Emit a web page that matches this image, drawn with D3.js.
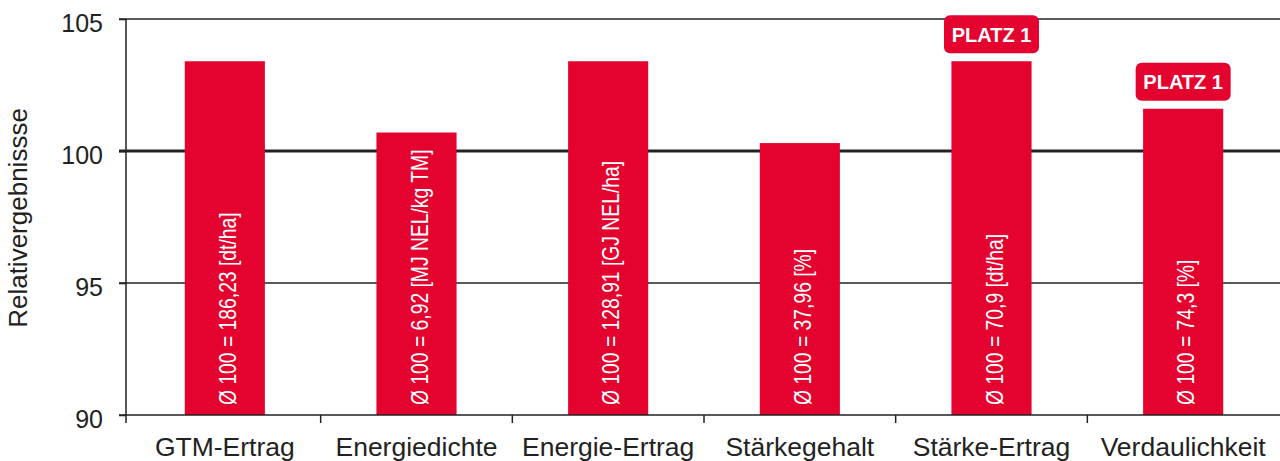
<!DOCTYPE html>
<html>
<head>
<meta charset="utf-8">
<script src="https://cdn.jsdelivr.net/npm/d3@7"></script>
<style>
  html, body { margin: 0; padding: 0; background: #fff; }
  svg { display: block; }
  text { font-family: "Liberation Sans", Arial, sans-serif; }
</style>
</head>
<body>
<svg id="chart" width="1280" height="461"></svg>
<script>
// Relative results per trait (100 = trial mean)
const categories = ["GTM-Ertrag", "Energiedichte", "Energie-Ertrag", "Stärkegehalt", "Stärke-Ertrag", "Verdaulichkeit"];
const values = [103.4, 100.7, 103.4, 100.3, 103.4, 101.6];
const meanValues = ["186,23", "6,92", "128,91", "37,96", "70,9", "74,3"];
const units = ["[dt/ha]", "[MJ NEL/kg TM]", "[GJ NEL/ha]", "[%]", "[dt/ha]", "[%]"];
const ranks = ["", "", "", "", "PLATZ 1", "PLATZ 1"];
const yTicks = [90, 95, 100, 105];
const yTitle = "Relativergebnissse";

const RED = "#e3032e";
const INK = "#222";

const svg = d3.select("#chart");
const plotLeft = 126, plotRight = 1281, plotTop = 19, plotBottom = 415;

const x = d3.scaleBand().domain(categories).range([129, 1279])
  .paddingInner(0.582).paddingOuter(0.291);
const y = d3.scaleLinear().domain([90, 105]).range([plotBottom, plotTop]);

const rows = categories.map((c, i) => ({
  cat: c, value: values[i],
  label: "Ø 100 = " + meanValues[i] + " " + units[i],
  rank: ranks[i]
}));

// horizontal grid lines (100 emphasised)
svg.append("g").selectAll("line")
  .data(yTicks.filter(t => t > 90))
  .join("line")
  .attr("x1", plotLeft - 7).attr("x2", plotRight)
  .attr("y1", d => y(d)).attr("y2", d => y(d))
  .attr("stroke", INK)
  .attr("stroke-width", d => d === 100 ? 3 : 1.5);

// bars
svg.append("g").selectAll("rect")
  .data(rows)
  .join("rect")
  .attr("x", d => x(d.cat))
  .attr("width", x.bandwidth())
  .attr("y", d => y(d.value))
  .attr("height", d => y(90) - y(d.value))
  .attr("fill", RED);

// mean reference labels inside bars
svg.append("g").selectAll("text")
  .data(rows)
  .join("text")
  .attr("transform", d => `translate(${x(d.cat) + x.bandwidth() / 2 + 11},${y(90) - 10}) rotate(-90) scale(0.84,1)`)
  .attr("fill", "#fff")
  .attr("font-size", 23)
  .text(d => d.label);

// rank badges
const badges = svg.append("g").selectAll("g")
  .data(rows.filter(d => d.rank))
  .join("g")
  .attr("transform", d => `translate(${x(d.cat) + x.bandwidth() / 2},${y(d.value) - 8})`);
badges.append("rect")
  .attr("x", -47.5).attr("y", -38)
  .attr("width", 95).attr("height", 38)
  .attr("rx", 6)
  .attr("fill", RED);
badges.append("text")
  .attr("y", -11.5)
  .attr("text-anchor", "middle")
  .attr("fill", "#fff")
  .attr("font-family", "Roboto, 'Liberation Sans', sans-serif")
  .attr("font-weight", 700)
  .attr("font-size", 20)
  .text(d => d.rank);

// y axis
const yAxis = svg.append("g")
  .attr("transform", `translate(${plotLeft},0)`)
  .call(d3.axisLeft(y).tickValues(yTicks).tickSize(7).tickPadding(16).tickFormat(d3.format("d")));
yAxis.select(".domain").remove();
yAxis.selectAll(".tick line").attr("stroke", INK).attr("stroke-width", 1.5);
yAxis.selectAll(".tick text")
  .attr("font-size", 25).attr("fill", INK)
  .attr("font-family", "'Liberation Sans', Arial, sans-serif")
  .attr("dy", "0.5em");
svg.append("line")
  .attr("x1", plotLeft).attr("x2", plotLeft)
  .attr("y1", y(105)).attr("y2", y(90) + 8)
  .attr("stroke", INK).attr("stroke-width", 1.5);

// x axis line and category boundary ticks
svg.append("line")
  .attr("x1", plotLeft - 7).attr("x2", plotRight)
  .attr("y1", y(90)).attr("y2", y(90))
  .attr("stroke", INK).attr("stroke-width", 1.5);
const bounds = categories.map(c => x(c) + x.bandwidth() / 2 - x.step() / 2);
svg.append("g").selectAll("line")
  .data(bounds.slice(1))
  .join("line")
  .attr("x1", d => d).attr("x2", d => d)
  .attr("y1", y(90)).attr("y2", y(90) + 8)
  .attr("stroke", INK).attr("stroke-width", 1.5);

// category labels
svg.append("g").selectAll("text")
  .data(categories)
  .join("text")
  .attr("x", d => x(d) + x.bandwidth() / 2)
  .attr("y", y(90) + 41)
  .attr("text-anchor", "middle")
  .attr("font-size", 26.5)
  .attr("fill", INK)
  .text(d => d);

// y axis title
svg.append("text")
  .attr("transform", `translate(27,${(plotTop + plotBottom) / 2 + 1}) rotate(-90)`)
  .attr("text-anchor", "middle")
  .attr("font-size", 26)
  .attr("fill", INK)
  .text(yTitle);
</script>
</body>
</html>
